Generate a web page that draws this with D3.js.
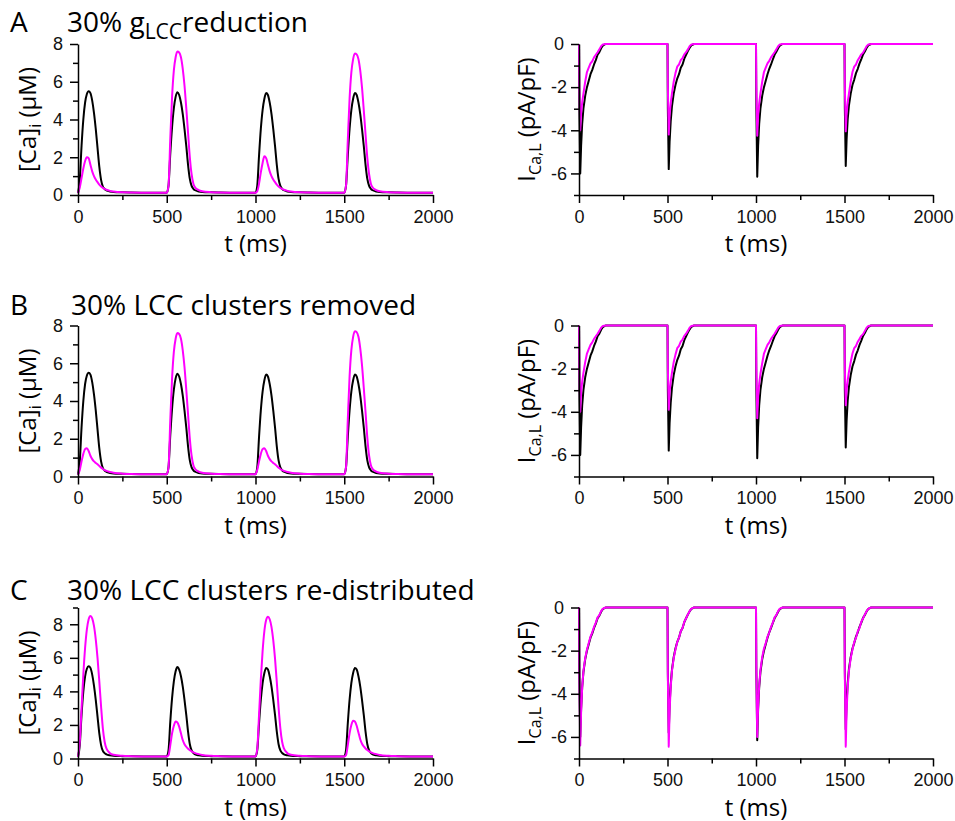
<!DOCTYPE html>
<html>
<head>
<meta charset="utf-8">
<script src="https://cdn.jsdelivr.net/npm/d3@7"></script>
<style>
  body { margin: 0; background: #fff; }
  svg { display: block; }
  .lbl { font-family: "Open Sans", sans-serif; fill: #000; }
</style>
</head>
<body>
<svg id="graph" width="955" height="821"></svg>
<script>
var w = 955;
var h = 821;

// beat onsets (ms) and sample offsets inside each beat
var beats = [0, 500, 1000, 1500];
var caOffsets = [0, 10, 20, 30, 40, 50, 60, 70, 80, 90, 100, 110, 120, 130, 140, 150, 160, 180, 200, 250, 300, 400];
var icaOffsets = [0, 2, 7, 12, 18, 25, 35, 45, 55, 65, 75, 85, 95, 105, 115, 125, 135, 150, 499];

// [Ca]i, control (black), same in all three rows
var caControl = [
  0.10, 0.8, 2.6, 4.0, 4.9, 5.35, 5.5, 5.4, 5.0, 4.35, 3.5, 2.5, 1.5, 0.8, 0.45, 0.32, 0.25, 0.19, 0.16, 0.14, 0.13, 0.12,
  0.12, 0.5, 2.2, 3.6, 4.6, 5.2, 5.45, 5.3, 4.9, 4.3, 3.5, 2.6, 1.6, 0.85, 0.48, 0.33, 0.25, 0.19, 0.16, 0.14, 0.13, 0.12,
  0.12, 0.5, 2.1, 3.5, 4.5, 5.1, 5.4, 5.3, 4.9, 4.3, 3.5, 2.6, 1.6, 0.85, 0.48, 0.33, 0.25, 0.19, 0.16, 0.14, 0.13, 0.12,
  0.12, 0.5, 2.1, 3.5, 4.5, 5.1, 5.4, 5.3, 4.9, 4.3, 3.5, 2.6, 1.6, 0.85, 0.48, 0.33, 0.25, 0.19, 0.16, 0.14, 0.13, 0.12,
  0.12];
// [Ca]i, 30% gLCC reduction
var caRedA = [
  0.10, 0.4, 0.9, 1.4, 1.8, 2.0, 1.95, 1.6, 1.25, 1.0, 0.82, 0.68, 0.55, 0.45, 0.38, 0.32, 0.28, 0.22, 0.18, 0.14, 0.13, 0.12,
  0.12, 0.5, 3.0, 5.2, 6.6, 7.3, 7.6, 7.55, 7.3, 6.7, 5.8, 4.6, 3.3, 2.0, 1.1, 0.6, 0.4, 0.26, 0.2, 0.15, 0.13, 0.12,
  0.12, 0.2, 0.6, 1.2, 1.7, 2.05, 1.95, 1.6, 1.25, 1.0, 0.82, 0.68, 0.55, 0.45, 0.38, 0.32, 0.28, 0.22, 0.18, 0.14, 0.13, 0.12,
  0.12, 0.5, 2.9, 5.1, 6.5, 7.2, 7.5, 7.45, 7.2, 6.6, 5.7, 4.5, 3.2, 1.95, 1.1, 0.6, 0.4, 0.26, 0.2, 0.15, 0.13, 0.12,
  0.12];
// [Ca]i, 30% LCC clusters removed
var caRedB = [
  0.10, 0.35, 0.8, 1.2, 1.45, 1.5, 1.35, 1.1, 0.92, 0.8, 0.72, 0.65, 0.56, 0.47, 0.4, 0.34, 0.3, 0.24, 0.2, 0.15, 0.13, 0.12,
  0.12, 0.5, 3.0, 5.2, 6.6, 7.3, 7.6, 7.55, 7.3, 6.7, 5.8, 4.6, 3.3, 2.0, 1.1, 0.6, 0.4, 0.26, 0.2, 0.15, 0.13, 0.12,
  0.12, 0.35, 0.8, 1.2, 1.45, 1.5, 1.35, 1.1, 0.92, 0.8, 0.72, 0.65, 0.56, 0.47, 0.4, 0.34, 0.3, 0.24, 0.2, 0.15, 0.13, 0.12,
  0.12, 0.5, 3.0, 5.3, 6.7, 7.4, 7.7, 7.65, 7.4, 6.8, 5.9, 4.7, 3.4, 2.05, 1.1, 0.6, 0.4, 0.26, 0.2, 0.15, 0.13, 0.12,
  0.12];
// [Ca]i, 30% LCC clusters re-distributed
var caRedC = [
  0.10, 1.0, 3.0, 5.0, 6.6, 7.7, 8.3, 8.5, 8.35, 7.9, 7.1, 6.0, 4.6, 3.1, 1.8, 1.0, 0.6, 0.32, 0.22, 0.16, 0.14, 0.12,
  0.12, 0.2, 0.8, 1.5, 1.95, 2.2, 2.15, 1.9, 1.5, 1.1, 0.85, 0.7, 0.58, 0.5, 0.42, 0.36, 0.32, 0.26, 0.21, 0.16, 0.14, 0.12,
  0.12, 0.6, 2.6, 4.7, 6.4, 7.6, 8.25, 8.45, 8.3, 7.85, 7.05, 5.95, 4.55, 3.05, 1.8, 1.0, 0.6, 0.32, 0.22, 0.16, 0.14, 0.12,
  0.12, 0.2, 0.8, 1.5, 2.0, 2.25, 2.2, 1.95, 1.55, 1.15, 0.88, 0.72, 0.6, 0.5, 0.42, 0.36, 0.32, 0.26, 0.21, 0.16, 0.14, 0.12,
  0.12];

// ICa,L, control (black)
var icaControl = [
  0, -3.0, -6.0, -4.7, -3.7, -3.0, -2.4, -2.0, -1.7, -1.4, -1.2, -0.95, -0.75, -0.5, -0.38, -0.2, -0.07, 0, 0,
  0, -3.0, -5.8, -4.5, -3.6, -2.9, -2.3, -1.9, -1.6, -1.4, -1.1, -0.95, -0.68, -0.5, -0.33, -0.18, -0.06, 0, 0,
  0, -3.0, -6.15, -4.7, -3.7, -3.0, -2.4, -2.0, -1.7, -1.4, -1.15, -0.95, -0.72, -0.5, -0.36, -0.2, -0.07, 0, 0,
  0, -3.0, -5.65, -4.4, -3.5, -2.85, -2.3, -1.9, -1.65, -1.35, -1.15, -0.9, -0.7, -0.48, -0.35, -0.18, -0.06, 0, 0,
  0];
var icaRedA = [
  0, -2.0, -4.0, -3.2, -2.7, -2.3, -1.75, -1.3, -1.1, -0.9, -0.8, -0.62, -0.5, -0.38, -0.25, -0.1, -0.02, 0, 0,
  0, -2.0, -4.2, -3.3, -2.75, -2.3, -1.75, -1.35, -1.05, -0.95, -0.75, -0.65, -0.48, -0.38, -0.25, -0.1, -0.02, 0, 0,
  0, -2.0, -4.25, -3.3, -2.75, -2.3, -1.75, -1.3, -1.1, -0.9, -0.78, -0.62, -0.5, -0.38, -0.25, -0.1, -0.02, 0, 0,
  0, -2.0, -4.05, -3.2, -2.7, -2.3, -1.75, -1.3, -1.05, -0.95, -0.75, -0.62, -0.48, -0.4, -0.25, -0.1, -0.02, 0, 0,
  0];
var icaRedB = [
  0, -2.0, -4.0, -3.1, -2.6, -2.2, -1.7, -1.3, -1.1, -0.9, -0.78, -0.62, -0.5, -0.38, -0.25, -0.1, -0.02, 0, 0,
  0, -2.0, -3.9, -3.1, -2.6, -2.2, -1.7, -1.35, -1.05, -0.95, -0.75, -0.65, -0.48, -0.38, -0.25, -0.1, -0.02, 0, 0,
  0, -2.0, -4.3, -3.3, -2.7, -2.25, -1.75, -1.3, -1.1, -0.9, -0.78, -0.62, -0.5, -0.38, -0.25, -0.1, -0.02, 0, 0,
  0, -2.0, -3.7, -3.0, -2.55, -2.15, -1.7, -1.3, -1.05, -0.95, -0.75, -0.62, -0.48, -0.4, -0.25, -0.1, -0.02, 0, 0,
  0];
var icaRedC = [
  0, -3.2, -6.4, -4.8, -3.7, -2.95, -2.35, -1.95, -1.65, -1.35, -1.15, -0.9, -0.7, -0.46, -0.35, -0.17, -0.05, 0, 0,
  0, -3.2, -6.45, -4.8, -3.7, -2.95, -2.35, -1.95, -1.6, -1.4, -1.1, -0.95, -0.66, -0.5, -0.32, -0.17, -0.05, 0, 0,
  0, -3.0, -6.0, -4.6, -3.6, -2.9, -2.3, -1.9, -1.65, -1.35, -1.15, -0.9, -0.7, -0.46, -0.35, -0.17, -0.05, 0, 0,
  0, -3.2, -6.45, -4.8, -3.7, -2.95, -2.35, -1.95, -1.6, -1.4, -1.1, -0.95, -0.66, -0.5, -0.32, -0.17, -0.05, 0, 0,
  0];

var rows = [
  {letter: "A", title: ["30% g", "LCC", "reduction"], titleX: 67, titleY: 32, top: 44, ca: caRedA, ica: icaRedA, caMax: 8},
  {letter: "B", title: ["30% LCC clusters removed"], titleX: 71, titleY: 315, top: 325.5, ca: caRedB, ica: icaRedB, caMax: 8},
  {letter: "C", title: ["30% LCC clusters re-distributed"], titleX: 67, titleY: 600, top: 607.5, ca: caRedC, ica: icaRedC, caMax: 9}
];

var plotH = 151;
var leftX = [78, 433];
var rightX = [579, 933];
var magenta = "#ff00ff";
var tickFont = '"Liberation Sans", Arial, sans-serif';

var svg = d3.select("#graph");

// turns offset grid + flat value list into points
function series(offsets, values) {
  var pts = [];
  beats.forEach(function(b, bi) {
    offsets.forEach(function(o, oi) {
      pts.push({t: b + o, v: values[bi * offsets.length + oi]});
    });
  });
  pts.push({t: 2000, v: values[values.length - 1]});
  return pts;
}

function drawPanel(g, xr, top, yDomain, majorY, minorY, lines, curve) {
  var x = d3.scaleLinear().domain([0, 2000]).range(xr);
  var y = d3.scaleLinear().domain(yDomain).range([top + plotH, top]);

  var line = d3.line()
    .x(function(d) { return x(d.t); })
    .y(function(d) { return y(d.v); })
    .curve(curve);

  lines.forEach(function(l) {
    g.append("path")
      .datum(l.pts)
      .attr("d", line)
      .attr("fill", "none")
      .attr("stroke", l.color)
      .attr("stroke-width", 2)
      .attr("stroke-linejoin", "round");
  });

  var fmt = function(d) { return String(d); };

  // minor ticks first, then major with labels
  g.append("g")
    .attr("transform", "translate(0," + (top + plotH) + ")")
    .call(d3.axisBottom(x).tickValues([250, 750, 1250, 1750]).tickSize(5).tickFormat(""))
    .call(function(s) { s.select(".domain").remove(); });
  var xa = g.append("g")
    .attr("transform", "translate(0," + (top + plotH) + ")")
    .call(d3.axisBottom(x).tickValues([0, 500, 1000, 1500, 2000]).tickSize(8).tickSizeOuter(0).tickFormat(fmt));
  xa.selectAll("text").attr("y", 15).attr("dy", "0.71em");

  g.append("g")
    .attr("transform", "translate(" + xr[0] + ",0)")
    .call(d3.axisLeft(y).tickValues(minorY).tickSize(5).tickFormat(""))
    .call(function(s) { s.select(".domain").remove(); });
  var ya = g.append("g")
    .attr("transform", "translate(" + xr[0] + ",0)")
    .call(d3.axisLeft(y).tickValues(majorY).tickSize(8).tickSizeOuter(0).tickFormat(fmt));
  ya.selectAll("text").attr("x", -20).attr("text-anchor", "middle");

  g.selectAll(".tick text")
    .style("font-family", tickFont)
    .style("font-size", "18px")
    .attr("fill", "#111");
  g.selectAll(".domain").attr("stroke", "#000").attr("stroke-width", 1.5);
  g.selectAll(".tick line").attr("stroke", "#000").attr("stroke-width", 1.5);

  // x axis title
  g.append("text")
    .attr("class", "lbl")
    .attr("x", (xr[0] + xr[1]) / 2)
    .attr("y", top + plotH + 57)
    .attr("text-anchor", "middle")
    .style("font-size", "24px")
    .text("t (ms)");
}

rows.forEach(function(r) {
  var g = svg.append("g");

  // row letter and title
  g.append("text").attr("class", "lbl")
    .attr("x", 10).attr("y", r.titleY)
    .style("font-size", "28px")
    .text(r.letter);
  var tt = g.append("text").attr("class", "lbl")
    .attr("x", r.titleX).attr("y", r.titleY)
    .style("font-size", "28px");
  if (r.title.length == 3) {
    tt.append("tspan").text(r.title[0]);
    tt.append("tspan").attr("dy", 7).style("font-size", "21px").text(r.title[1]);
    tt.append("tspan").attr("dy", -7).text(r.title[2]);
  } else {
    tt.text(r.title[0]);
  }

  // left: [Ca]i
  var majorCa = [0, 2, 4, 6, 8];
  var minorCa = r.caMax == 9 ? [1, 3, 5, 7, 9] : [1, 3, 5, 7];
  drawPanel(g, leftX, r.top, [0, r.caMax], majorCa, minorCa, [
    {pts: series(caOffsets, caControl), color: "#000"},
    {pts: series(caOffsets, r.ca), color: magenta}
  ], d3.curveMonotoneX);

  // right: ICa,L
  drawPanel(g, rightX, r.top, [-7, 0], [-6, -4, -2, 0], [-7, -5, -3, -1], [
    {pts: series(icaOffsets, icaControl), color: "#000"},
    {pts: series(icaOffsets, r.ica), color: magenta}
  ], d3.curveLinear);

  // y axis titles
  var cy = r.top + plotH / 2;
  var yl = g.append("text").attr("class", "lbl")
    .attr("transform", "translate(36," + cy + ") rotate(-90)")
    .attr("text-anchor", "middle")
    .style("font-size", "24px");
  yl.append("tspan").text("[Ca]");
  yl.append("tspan").attr("dy", 5).style("font-size", "16px").text("i");
  yl.append("tspan").attr("dy", -5).text(" (\u03bcM)");

  var yr = g.append("text").attr("class", "lbl")
    .attr("transform", "translate(535," + cy + ") rotate(-90)")
    .attr("text-anchor", "middle")
    .style("font-size", "24px");
  yr.append("tspan").text("I");
  yr.append("tspan").attr("dy", 6).style("font-size", "16px").text("Ca,L");
  yr.append("tspan").attr("dy", -6).text(" (pA/pF)");
});
</script>
</body>
</html>
